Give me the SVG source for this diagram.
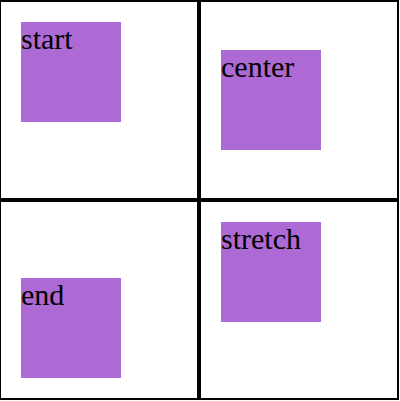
<svg xmlns="http://www.w3.org/2000/svg" width="400" height="401" viewBox="0 0 400 401">
<style>
.box{fill:#ad69d4}
.lbl{font-family:"Liberation Serif","Times New Roman",serif;font-size:30px;fill:#000}
.ln{fill:#000}
</style>
<rect width="400" height="401" fill="#fff"/>
<g id="grid">
<rect class="ln" x="0" y="0" width="399" height="2"/>
<rect class="ln" x="0" y="198" width="399" height="4"/>
<rect class="ln" x="0" y="398" width="399" height="2"/>
<rect class="ln" x="0" y="0" width="1" height="400"/>
<rect class="ln" x="197" y="0" width="4" height="400"/>
<rect class="ln" x="397" y="0" width="2" height="400"/>
</g>
<g id="start">
<rect class="box" x="21" y="22" width="100" height="100"/>
<text class="lbl" x="21" y="49.4">start</text>
</g>
<g id="center">
<rect class="box" x="221" y="50" width="100" height="100"/>
<text class="lbl" x="221" y="77.4">center</text>
</g>
<g id="end">
<rect class="box" x="21" y="278" width="100" height="100"/>
<text class="lbl" x="21" y="305.4">end</text>
</g>
<g id="stretch">
<rect class="box" x="221" y="222" width="100" height="100"/>
<text class="lbl" x="221" y="249.4">stretch</text>
</g>
</svg>
